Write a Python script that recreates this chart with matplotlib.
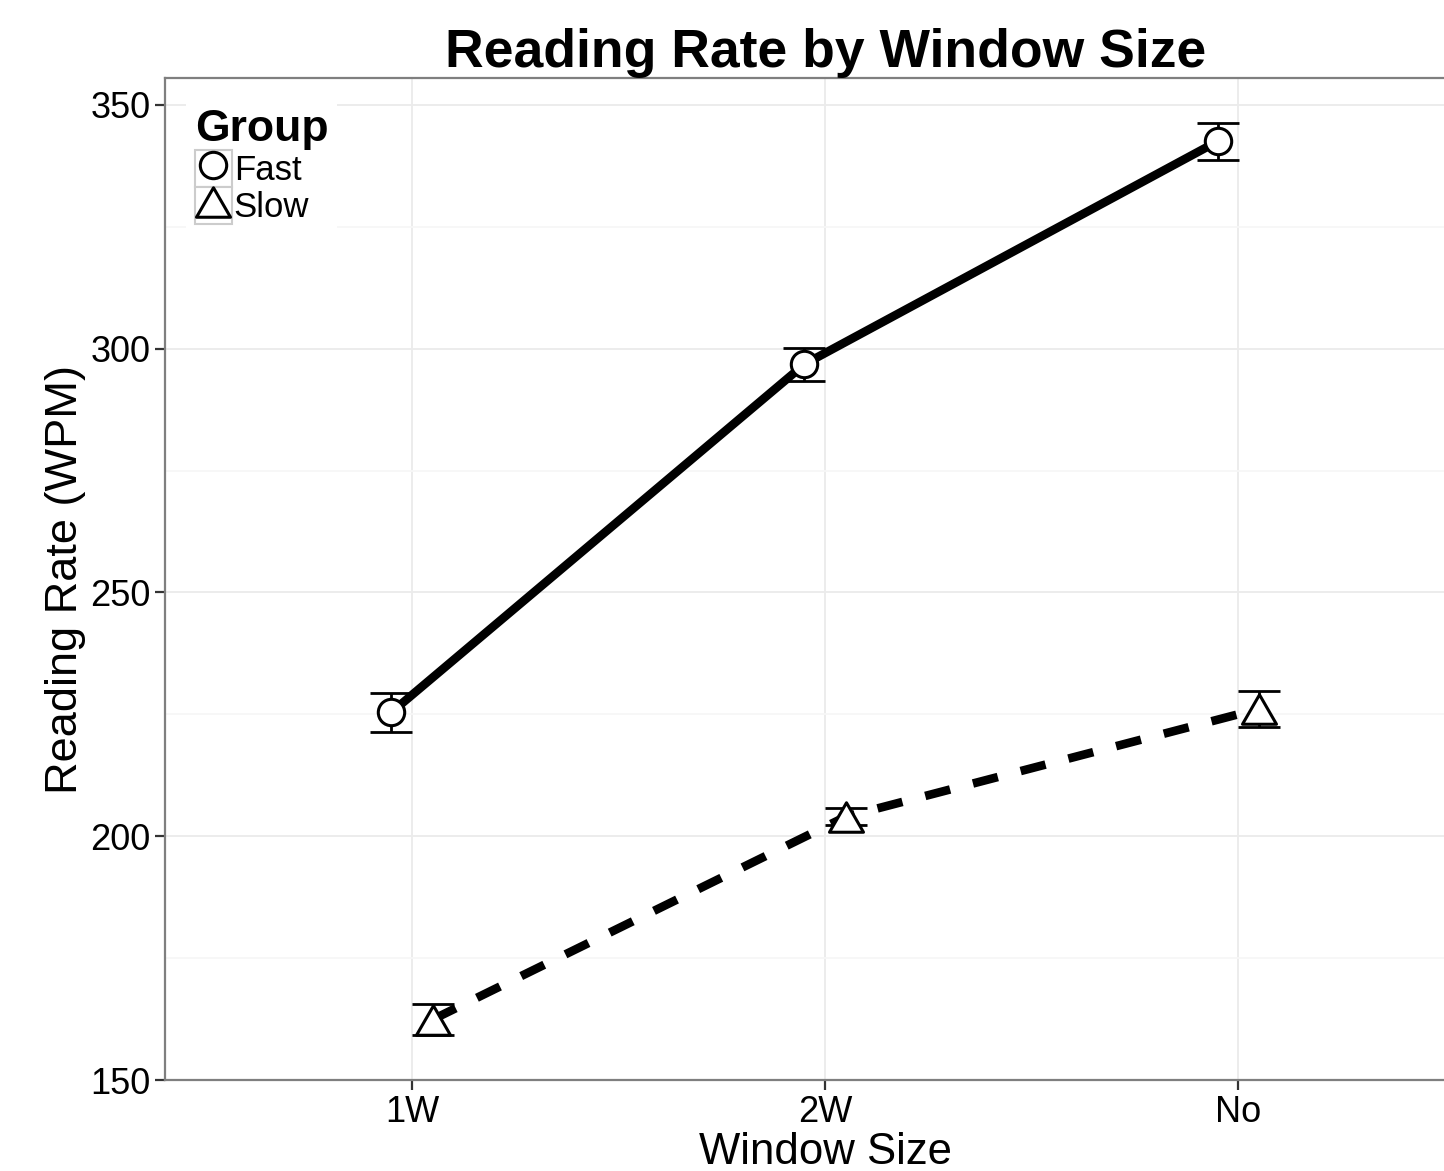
import numpy as np
import matplotlib
matplotlib.use("Agg")
import matplotlib.pyplot as plt
from matplotlib.lines import Line2D
from matplotlib.patches import Rectangle
from matplotlib.path import Path
from matplotlib.legend_handler import HandlerTuple
from matplotlib.ticker import MultipleLocator

plt.rcParams['font.family'] = ['Liberation Sans', 'DejaVu Sans']
plt.rcParams['lines.scale_dashes'] = False

# data
window_sizes = ['1W', '2W', 'No']
groups = ['Fast', 'Slow']
fast_mean = [225.4, 296.8, 342.5]
fast_se = [4.0, 3.4, 3.8]
slow_mean = [162.4, 204.0, 226.1]
slow_se = [3.2, 1.8, 3.7]

W, H, DPI = 1444, 1171, 100
fig = plt.figure(figsize=(W / DPI, H / DPI), dpi=DPI)
# panel runs off the right edge of the picture, like the original
ax = fig.add_axes([165 / W, 91 / H, 1321 / W, 1002 / H])

x = np.arange(len(window_sizes))
dodge = 0.05
# equilateral-ish open triangle like ggplot shape 2
tri = Path([(0, 0.5), (-0.577, -0.5), (0.577, -0.5), (0, 0.5)], closed=True)

series = [
    (fast_mean, fast_se, -dodge, '-', 'o', 19),
    (slow_mean, slow_se, dodge, '--', tri, 24.5),
]
for mean, se, off, ls, mk, ms in series:
    xs = x + off
    line, = ax.plot(xs, mean, color='black', lw=6.2, ls=ls, zorder=2,
                    solid_capstyle='butt')
    if ls == '--':
        line.set_dashes((18.5, 17))
    ax.errorbar(xs, mean, yerr=se, fmt='none', ecolor='black', elinewidth=2.0,
                capsize=15, capthick=2.0, zorder=3)
    ax.plot(xs, mean, ls='none', marker=mk, ms=ms, mfc='white', mec='black',
            mew=2.2, zorder=4)

ax.set_xlim(-0.598, 2.6)
ax.set_ylim(150, 355.5)
ax.set_xticks(x)
ax.set_xticklabels(window_sizes)
ax.yaxis.set_major_locator(MultipleLocator(50))
ax.yaxis.set_minor_locator(MultipleLocator(25))

ax.grid(True, which='major', color='#EBEBEB', lw=1.3, zorder=0)
ax.grid(True, which='minor', axis='y', color='#F7F7F7', lw=1.3, zorder=0)
ax.set_axisbelow(True)
for sp in ax.spines.values():
    sp.set_color('#7F7F7F')
    sp.set_linewidth(1.6)

ax.tick_params(axis='both', which='major', length=7.5, width=1.6,
               color='#333333', labelsize=26, labelcolor='black', pad=3)
ax.tick_params(axis='both', which='minor', length=0)

ax.set_xlabel('Window Size', fontsize=31.5, labelpad=2)
ax.set_ylabel('Reading Rate (WPM)', fontsize=32.5, labelpad=3)
ax.set_title('Reading Rate by Window Size', fontsize=38.5, fontweight='bold',
             pad=3)

# legend with grey key boxes
handles = []
for mk, ms in [('o', 19), (tri, 24.5)]:
    box = Rectangle((0, 0), 1, 1, facecolor='white', edgecolor='#CCCCCC', lw=1.5)
    m = Line2D([], [], ls='none', marker=mk, ms=ms, mfc='white', mec='black',
               mew=2.2)
    handles.append((box, m))
leg = ax.legend(handles, groups, title='Group', loc='upper left',
                bbox_to_anchor=(0.016, 0.978), fontsize=25,
                handler_map={tuple: HandlerTuple(ndivide=1, pad=0)},
                handlelength=1.07, handleheight=1.26, handletextpad=0.05,
                labelspacing=0, borderpad=0.25, borderaxespad=0,
                frameon=True, fancybox=False, framealpha=1,
                alignment='left')
leg.get_frame().set_facecolor('white')
leg.get_frame().set_edgecolor('none')
leg.get_title().set_fontsize(32)
leg.get_title().set_fontweight('bold')

fig.savefig('out.png', dpi=DPI)
